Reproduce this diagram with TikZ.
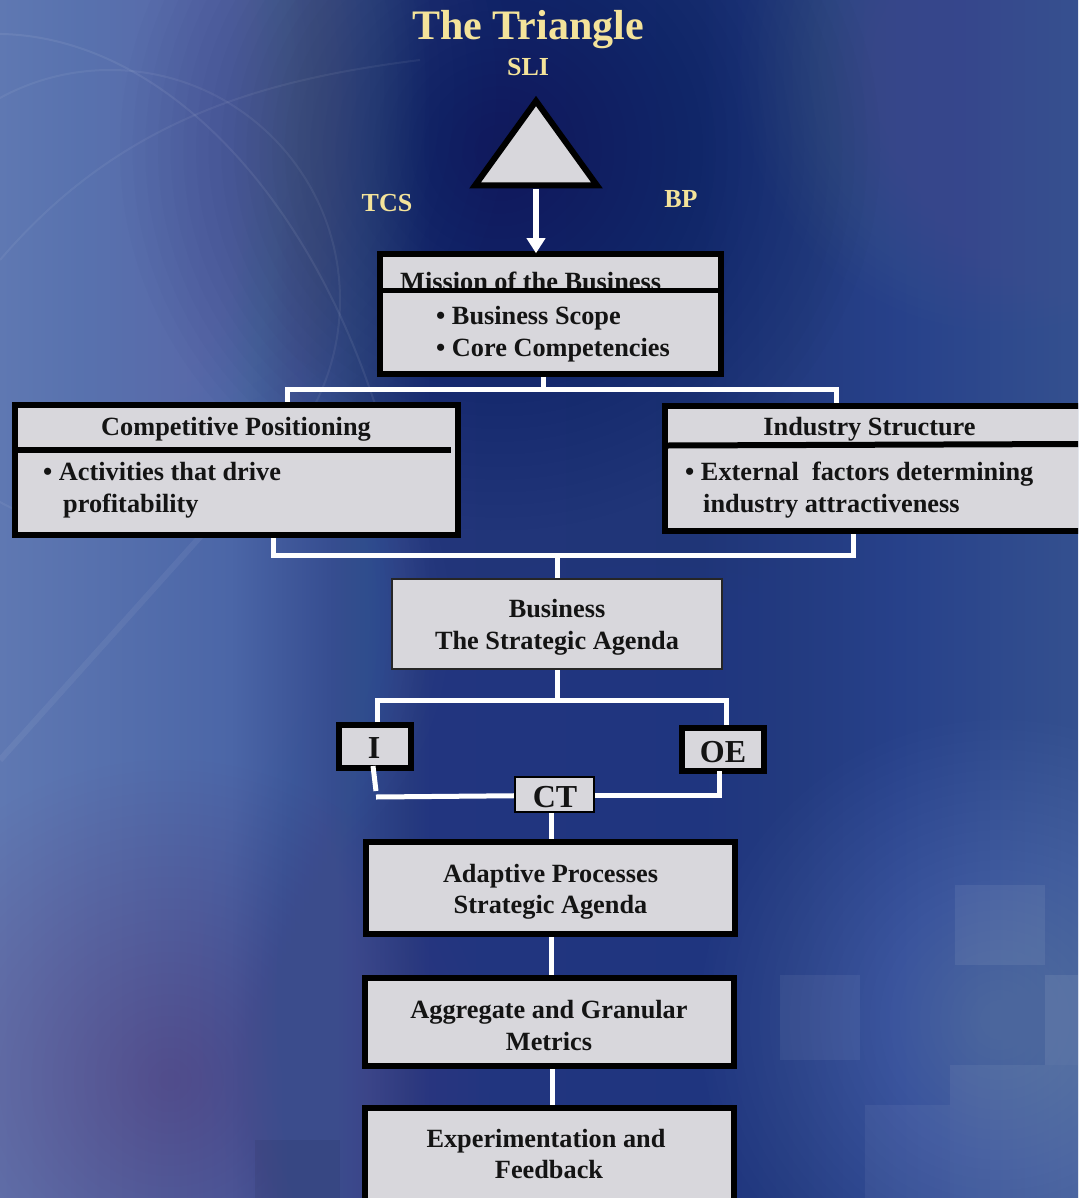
\documentclass[tikz,border=0pt]{standalone}
\usepackage{fontspec}
\setmainfont{Liberation Serif}
\usetikzlibrary{arrows.meta}
\definecolor{boxgray}{HTML}{D8D7DC}
\definecolor{ttl}{HTML}{F4E39A}
\definecolor{bgA}{HTML}{5F78B2}
\definecolor{bgB}{HTML}{4B66A7}
\definecolor{bgC}{HTML}{22357A}
\definecolor{bgD}{HTML}{1F3577}
\definecolor{bgE}{HTML}{27418A}
\definecolor{bgF}{HTML}{34508F}
\definecolor{glowA}{HTML}{8A9AC6}
\definecolor{glowB}{HTML}{6C8CCC}
\definecolor{darkglow}{HTML}{101A48}
\definecolor{purpglow}{HTML}{6E4C8C}
\definecolor{bluglow}{HTML}{3B66BE}
\definecolor{liteglow}{HTML}{7D98CF}
\newcommand{\bgglow}[4]{\foreach \gi in {1,...,30}{\fill[#3,opacity=#4] (#1) circle[radius={(#2)*\gi/30*1pt}];}}
\begin{document}
\begin{tikzpicture}[x=1pt,y=-1pt,
  box/.style={draw=black, fill=boxgray, line width=5.5pt, inner sep=0pt},
  thinbox/.style={draw=black!85, fill=boxgray, line width=2.2pt, inner sep=0pt},
  wline/.style={draw=white, line width=5pt},
  txt/.style={font=\fontsize{26.3}{32}\selectfont\bfseries, text=black!92, inner sep=0pt},
  bigtxt/.style={font=\fontsize{32}{38}\selectfont\bfseries, text=black!92, inner sep=0pt},
  lbl/.style={font=\fontsize{26}{32}\selectfont\bfseries, text=ttl, inner sep=0pt},
  hrule/.style={draw=black, line width=5.5pt},
]
\useasboundingbox (0,0) rectangle (1078,1198);
\begin{scope}
\clip (0,0) rectangle (1078,1198);
% ---------- background ----------
\shade[left color=bgA,right color=bgB] (0,0) rectangle (231,1198);
\shade[left color=bgB,right color=bgC] (230,0) rectangle (431,1198);
\shade[left color=bgC,right color=bgD] (430,0) rectangle (701,1198);
\shade[left color=bgD,right color=bgE] (700,0) rectangle (901,1198);
\shade[left color=bgE,right color=bgF] (900,0) rectangle (1078,1198);
\bgglow{90,90}{420}{glowA}{0.018}
\bgglow{1000,70}{260}{glowA}{0.012}
\bgglow{500,150}{380}{darkglow}{0.02}
\bgglow{150,620}{300}{glowB}{0.016}
\bgglow{170,1080}{320}{purpglow}{0.02}
\bgglow{650,1000}{450}{bluglow}{0.015}
\bgglow{1000,1020}{300}{liteglow}{0.02}
\draw[white,opacity=0.07,line width=2pt] (-60,40) .. controls (120,0) and (300,160) .. (380,420);
\draw[white,opacity=0.06,line width=2pt] (0,260) .. controls (120,120) and (260,80) .. (420,60);
\draw[white,opacity=0.06,line width=2pt] (110,300) circle[radius=230pt];
\draw[white,opacity=0.06,line width=6pt] (0,760) -- (260,470);
\fill[white,opacity=0.07] (955,885) rectangle (1045,965);
\fill[white,opacity=0.06] (780,975) rectangle (860,1060);
\fill[white,opacity=0.08] (1045,975) rectangle (1078,1065);
\fill[white,opacity=0.06] (950,1065) rectangle (1078,1198);
\fill[white,opacity=0.05] (865,1105) rectangle (950,1198);
\fill[black,opacity=0.06] (255,1140) rectangle (340,1198);
% ---------- title and labels ----------
\node[font=\fontsize{42}{50}\selectfont\bfseries, text=ttl, anchor=base, inner sep=0pt] (title) at (528,40) {The Triangle};
\node[lbl, anchor=base] (sli) at (528,76) {SLI};
\node[lbl, anchor=base] (tcs) at (387,212) {TCS};
\node[lbl, anchor=base] (bp) at (681,208) {BP};
% ---------- triangle ----------
\coordinate (triA) at (536,101);
\coordinate (triR) at (597,185.5);
\coordinate (triL) at (475,185.5);
\coordinate (tribase) at (536,189);
\draw[line width=6pt, fill=boxgray, line join=miter] (triA) -- (triR) -- (triL) -- cycle;
% ---------- white connectors under boxes ----------
\coordinate (mj) at (543,389.5);
\coordinate (tl) at (287,389.5);
\coordinate (tr) at (836,389.5);
\coordinate (bl) at (273,555.5);
\coordinate (br) at (853,555.5);
\coordinate (il) at (377,700);
\coordinate (ir) at (726,700);
% ---------- boxes ----------
\node[box, minimum width=341, minimum height=120] (mission) at (550.5,314) {};
\node[box, line width=6pt, minimum width=443, minimum height=130.5] (cp) at (236,469.75) {};
\node[box, line width=6pt, minimum width=440, minimum height=125] (ind) at (885,468.5) {};
\node[thinbox, minimum width=330, minimum height=90] (bus) at (557,624) {};
\draw[wline] (mission.south -| mj) -- (mj);
\draw[wline] (tl |- cp.north) -- (tl) -- (tr) -- (tr |- ind.north);
\draw[wline] (bl |- cp.south) -- (bl) -- (br) -- (br |- ind.south);
\draw[wline] (bus.north) -- (bus.north |- bl);
\draw[wline] (bus.south) -- (bus.south |- il);
% mission contents
\node[txt, anchor=base west] (mhead) at (400,290) {Mission of the Business};
\draw[hrule] (383,290.5) -- (718,290.5);
\node[txt, anchor=base west] (m1) at (436,324) {• Business Scope};
\node[txt, anchor=base west] (m2) at (436,356) {• Core Competencies};
% competitive positioning contents
\node[txt, anchor=base] (cphead) at (236,435) {Competitive Positioning};
\draw[hrule, line width=6pt] (17,450) -- (451,450);
\node[txt, anchor=base west] (cp1) at (43,480) {• Activities that drive};
\node[txt, anchor=base west] (cp2) at (63,512) {profitability};
% industry structure contents
\node[txt, anchor=base] (indhead) at (869.5,435) {Industry Structure};
\draw[hrule, line width=6pt] (668,445.5) -- (1080,444);
\node[txt, anchor=base west] (ind1) at (685,480) {• External\ \ factors determining};
\node[txt, anchor=base west] (ind2) at (703,512) {industry attractiveness};
% business
\node[txt, anchor=base] (bus1) at (557,617) {Business};
\node[txt, anchor=base] (bus2) at (557,649) {The Strategic Agenda};
% ---------- I / OE / CT ----------
\node[box, line width=6pt, minimum width=72, minimum height=43] (ibox) at (375,746.5) {};
\node[box, line width=6pt, minimum width=82, minimum height=43] (oe) at (723,749.5) {};
\draw[wline] (il |- ibox.north) -- (il) -- (ir) -- (ir |- oe.north);
\node[bigtxt, anchor=base] (itxt) at (374,758) {I};
\node[bigtxt, anchor=base] (oetxt) at (723,762) {OE};
\coordinate (ci) at (376,797);
\coordinate (co) at (719,795.5);
\draw[wline] ([shift={(-2,-5)}]ibox.south) -- ([shift={(0,-6)}]ci);
\draw[wline] (ci) -- (co -| 540,0);
\draw[wline] ([shift={(-4,-3)}]oe.south) -- (co) -- (570,795.5);
\node[thinbox, draw=black, line width=2.5pt, minimum width=79, minimum height=35] (ct) at (554.5,794.5) {};
\node[bigtxt, anchor=base] (cttxt) at (555,807) {CT};
% ---------- lower chain ----------
\node[box, line width=6pt, minimum width=369, minimum height=92] (adapt) at (550.5,888) {};
\node[box, line width=6pt, minimum width=369, minimum height=88] (agg) at (549.5,1022) {};
\node[box, line width=6pt, minimum width=369, minimum height=95] (expf) at (549.5,1155.5) {};
\draw[wline] (ct.south -| 551,0) -- (adapt.north -| 551,0);
\draw[wline] (adapt.south -| 551,0) -- (agg.north -| 551,0);
\draw[wline] (agg.south -| 552,0) -- (expf.north -| 552,0);
\node[txt, anchor=base] (ad1) at (550.5,882) {Adaptive Processes};
\node[txt, anchor=base] (ad2) at (550.5,913) {Strategic Agenda};
\node[txt, anchor=base] (ag1) at (549,1018) {Aggregate and Granular};
\node[txt, anchor=base] (ag2) at (549,1050) {Metrics};
\node[txt, anchor=base] (ex1) at (546,1147) {Experimentation and};
\node[txt, anchor=base] (ex2) at (549,1178) {Feedback};
% ---------- arrow from triangle to mission ----------
\draw[white, line width=6pt, -{Triangle[width=18pt,length=15pt]}] (tribase) -- ([shift={(0,2)}]tribase |- mission.north);
\end{scope}
\end{tikzpicture}
\end{document}
